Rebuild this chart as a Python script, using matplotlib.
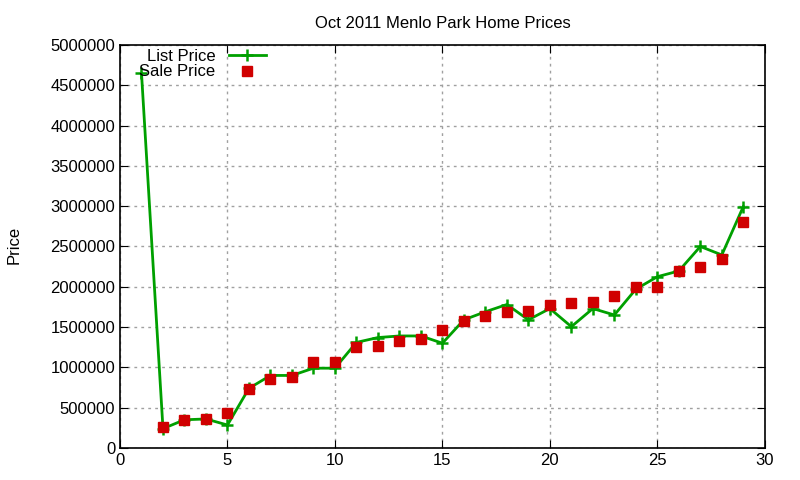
import matplotlib
matplotlib.use("Agg")
import matplotlib.pyplot as plt

plt.rcParams['font.family'] = ['Liberation Sans', 'DejaVu Sans']

days = list(range(1, 30))
list_price = [4650000, 240000, 350000, 360000, 285000, 740000, 900000, 900000, 990000, 990000,
              1310000, 1370000, 1390000, 1390000, 1300000, 1590000, 1690000, 1780000, 1590000, 1730000,
              1505000, 1730000, 1650000, 1970000, 2125000, 2196000, 2500000, 2395000, 2995000]
sale_price = [None, 265000, 350000, 360000, 440000, 730000, 850000, 885000, 1070000, 1070000,
              1250000, 1270000, 1330000, 1350000, 1460000, 1580000, 1640000, 1690000, 1700000, 1775000,
              1800000, 1815000, 1880000, 2000000, 2000000, 2200000, 2240000, 2340000, 2800000]

sale_x = [d for d, s in zip(days, sale_price) if s is not None]
sale_y = [s for s in sale_price if s is not None]

fig = plt.figure(figsize=(8, 4.8), dpi=100)
ax = fig.add_axes([0.15, 0.0667, 0.806, 0.8396])

ax.plot(days, list_price, color='#00a000', lw=2, marker='+', ms=9, mew=1.8, label='List Price')
ax.plot(sale_x, sale_y, ls='none', color='#d00000', marker='s', ms=7, label='Sale Price')

ax.set_xlim(0, 30)
ax.set_ylim(0, 5000000)
ax.set_xticks(range(0, 31, 5))
ax.set_yticks(range(0, 5000001, 500000))
ax.ticklabel_format(style='plain', axis='y')
ax.tick_params(direction='in', top=True, right=True, labelsize=12, length=6)
ax.grid(True, ls=(0, (2, 3)), color='#a0a0a0', lw=1)
for s in ax.spines.values():
    s.set_linewidth(1.2)

ax.set_title('Oct 2011 Menlo Park Home Prices', fontsize=12, pad=12)
fig.text(0.018, 0.49, 'Price', rotation=90, fontsize=12, va='center', ha='center')

ax.legend(loc='upper left', bbox_to_anchor=(0.012, 1.02), markerfirst=False, frameon=False,
          fontsize=12, handlelength=2.2, labelspacing=0.05, borderaxespad=0.3)

fig.savefig('out.png', dpi=100)
